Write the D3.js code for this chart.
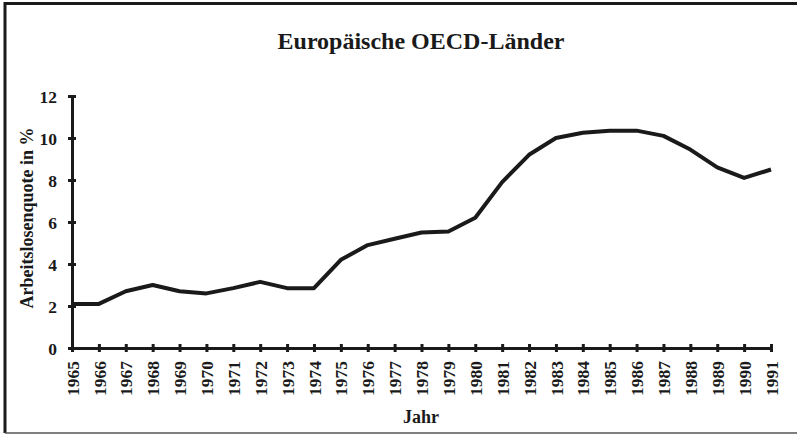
<!DOCTYPE html>
<meta charset="utf-8">
<style>
  body { margin: 0; background: #fff; }
  text { font-family: "Liberation Serif", "Times New Roman", serif; font-weight: bold; fill: #1a1a1a; }
</style>
<svg width="797" height="435"></svg>
<script src="https://d3js.org/d3.v7.min.js"></script>
<script>

var years = d3.range(1965, 1992);
var quote = [2.1, 2.1, 2.7, 3.0, 2.7, 2.6, 2.85, 3.15, 2.85, 2.85,
             4.2, 4.9, 5.2, 5.5, 5.55, 6.2, 7.9, 9.2, 10.0, 10.25,
             10.35, 10.35, 10.1, 9.45, 8.6, 8.1, 8.5];
var yTicks = [0, 2, 4, 6, 8, 10, 12];

var svg = d3.select("svg"),
    margin = {top: 96, right: 26, bottom: 87, left: 72},
    width = 797 - margin.left - margin.right,
    height = 435 - margin.top - margin.bottom;

// frame round the picture
svg.append("path")
    .attr("d", "M5,433 L5,3.5 L800,3.5")
    .attr("fill", "none").attr("stroke", "#1a1a1a").attr("stroke-width", 3);
svg.append("line")
    .attr("x1", 5).attr("x2", 797).attr("y1", 433).attr("y2", 433)
    .attr("stroke", "#555").attr("stroke-width", 1.5);

var x = d3.scaleLinear().domain([1965, 1991]).range([0, width]),
    y = d3.scaleLinear().domain([0, 12]).range([height, 0]);

var g = svg.append("g")
    .attr("transform", "translate(" + margin.left + "," + margin.top + ")");

svg.append("text")
    .attr("x", 421).attr("y", 49)
    .attr("text-anchor", "middle")
    .style("font-size", "24px")
    .text("Europäische OECD-Länder");

var yAxis = g.append("g")
    .call(d3.axisLeft(y).tickValues(yTicks).tickSize(4).tickPadding(11));
yAxis.selectAll("text").style("font-size", "17.5px").attr("dy", "0.35em");
yAxis.selectAll(".tick line").attr("x1", -4).attr("x2", 4);

var xAxis = g.append("g")
    .attr("transform", "translate(0," + height + ")")
    .call(d3.axisBottom(x).tickValues(years).tickFormat(d3.format("d")).tickSize(4));
xAxis.selectAll(".tick line").attr("y1", -4).attr("y2", 4);
xAxis.selectAll("text")
    .style("font-size", "17.5px")
    .attr("text-anchor", "end")
    .attr("transform", "rotate(-90)")
    .attr("x", -13).attr("y", 0).attr("dy", "0.35em");

g.selectAll(".domain, .tick line")
    .attr("stroke", "#1a1a1a").attr("stroke-width", 3);

g.append("path")
    .datum(years)
    .attr("fill", "none")
    .attr("stroke", "#1a1a1a")
    .attr("stroke-width", 4)
    .attr("stroke-linejoin", "round")
    .attr("d", d3.line()
        .x(function(d) { return x(d); })
        .y(function(d, i) { return y(quote[i]); }));

svg.append("text")
    .attr("transform", "translate(33," + (margin.top + height / 2 - 4) + ") rotate(-90)")
    .attr("text-anchor", "middle")
    .style("font-size", "18px")
    .text("Arbeitslosenquote in %");

svg.append("text")
    .attr("x", 421).attr("y", 423)
    .attr("text-anchor", "middle")
    .style("font-size", "18px")
    .text("Jahr");

</script>
